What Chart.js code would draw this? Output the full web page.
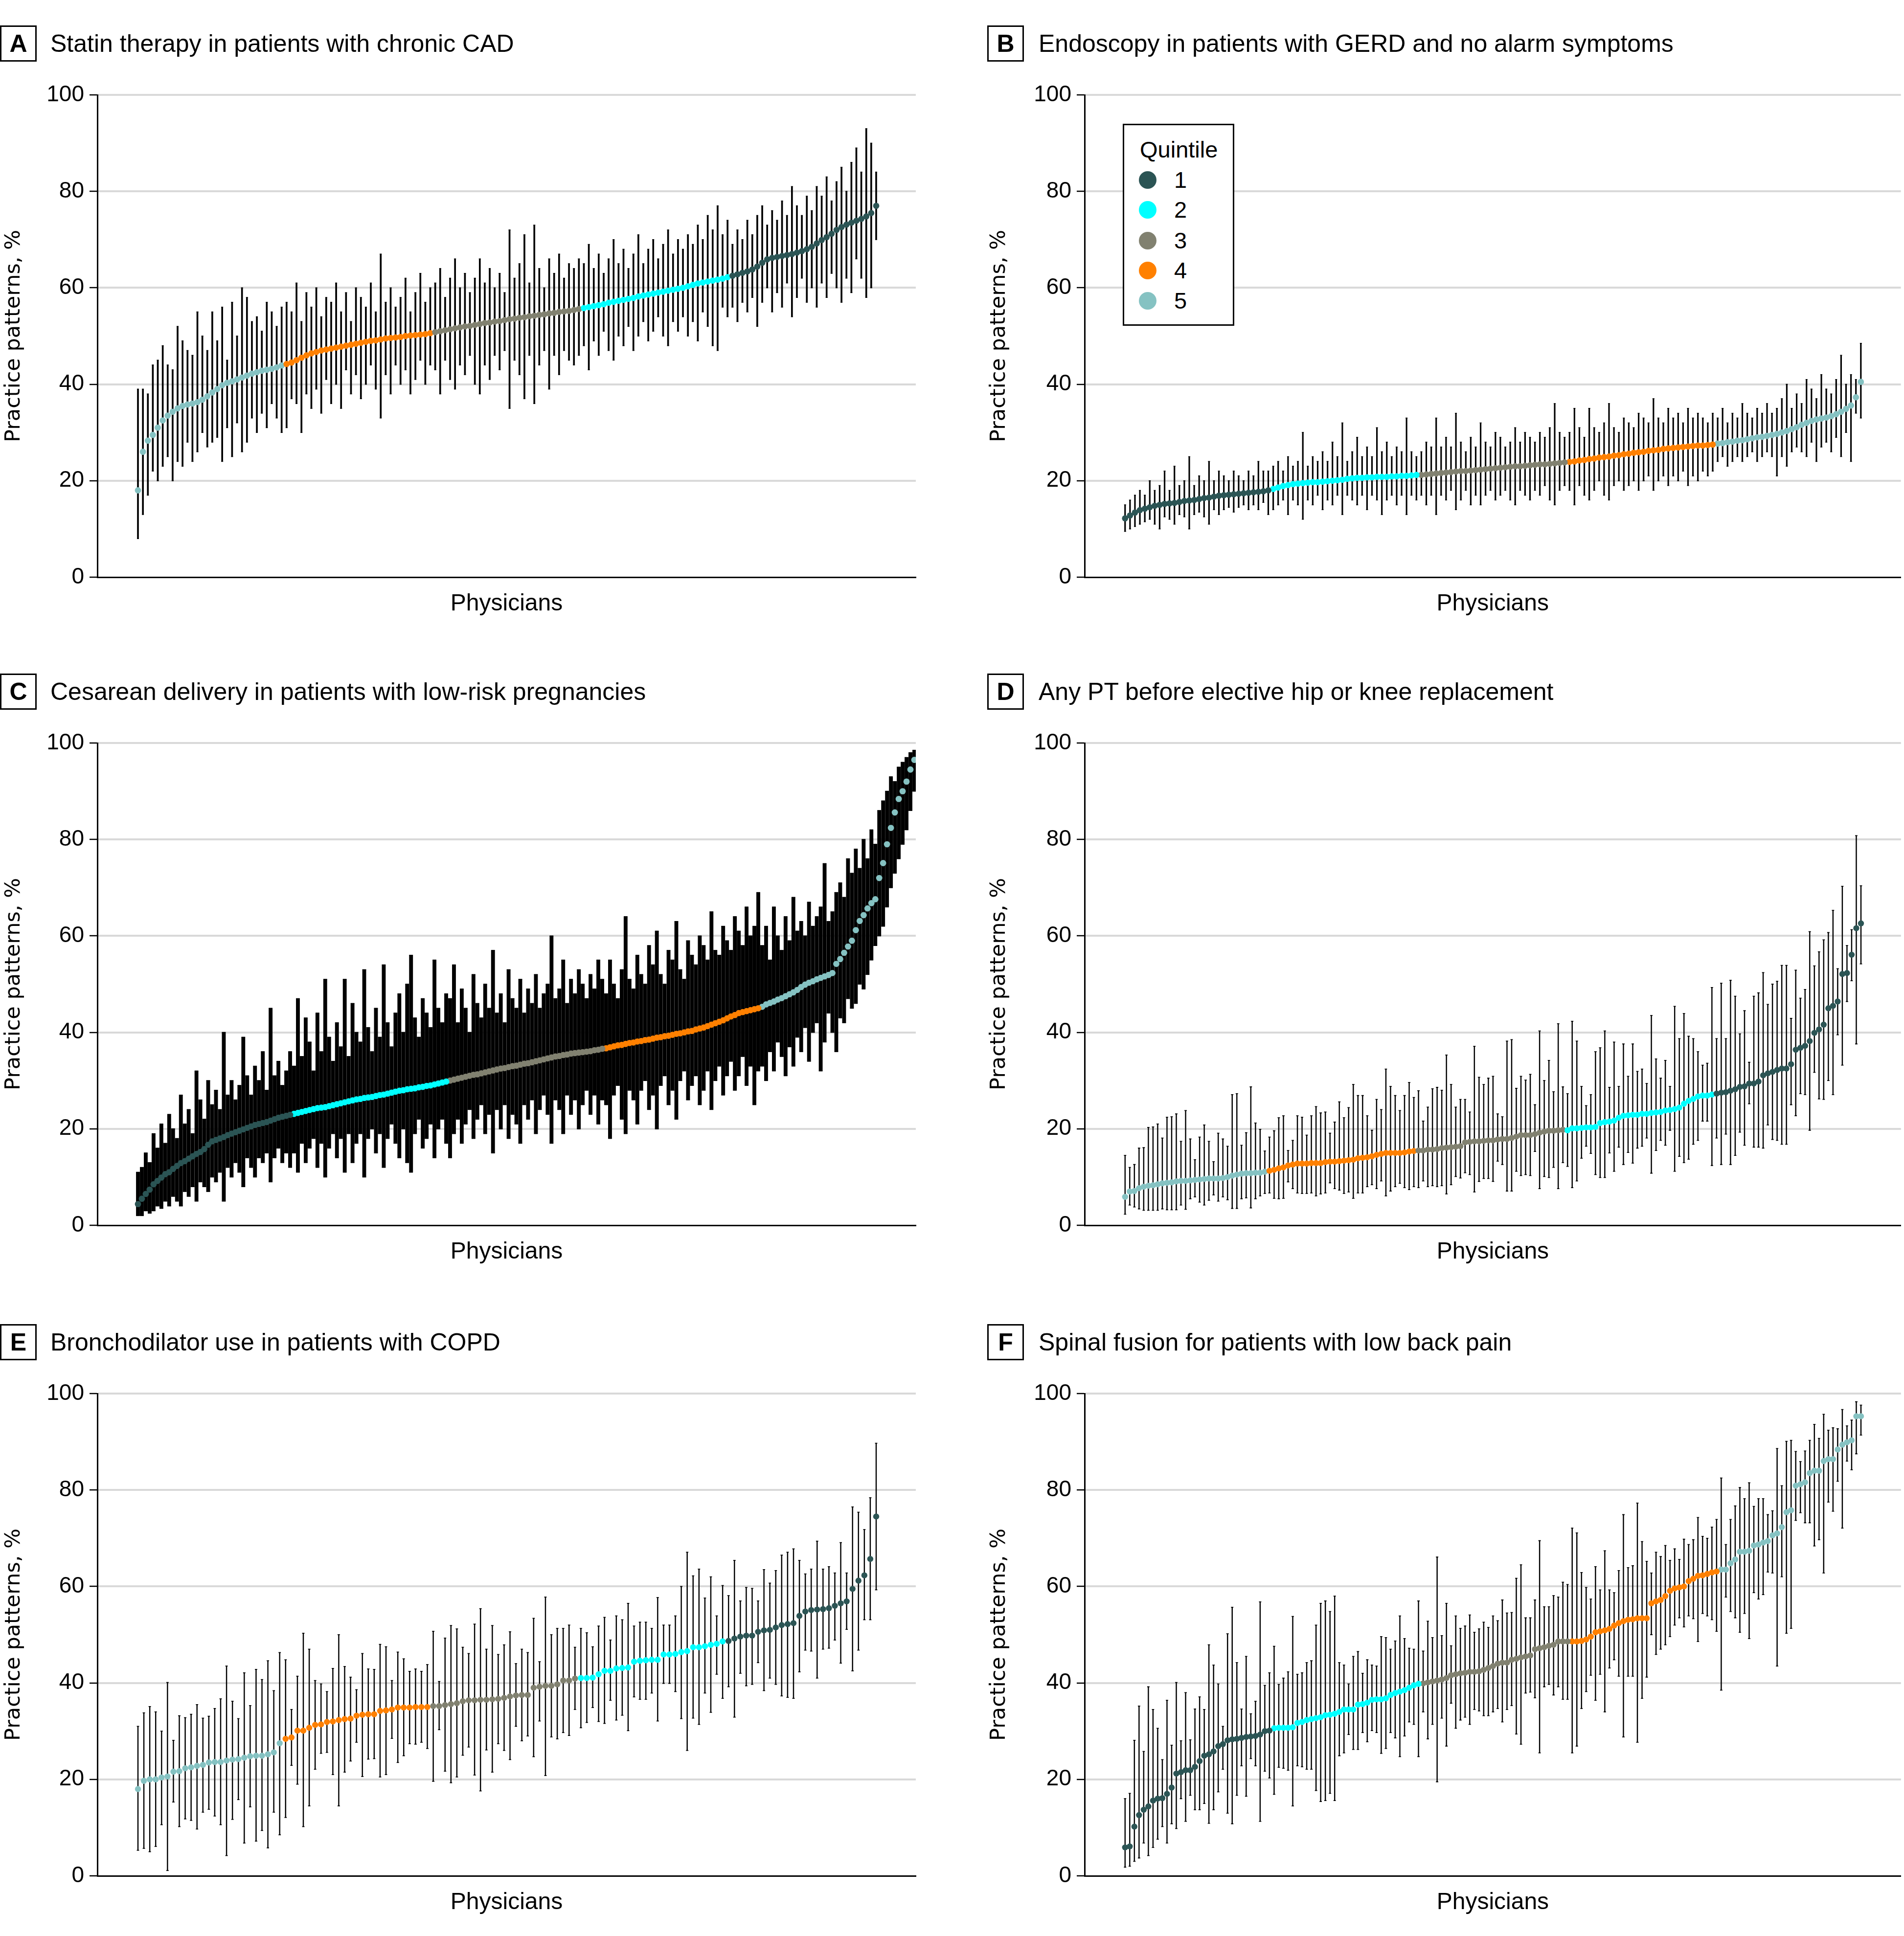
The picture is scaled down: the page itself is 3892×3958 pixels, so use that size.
<!DOCTYPE html>
<html><head><meta charset="utf-8">
<script src="https://cdn.jsdelivr.net/npm/chart.js@4.4.1/dist/chart.umd.min.js"></script>
<style>
html,body{margin:0;padding:0;background:#fff;}
body{width:3892px;height:3958px;position:relative;overflow:hidden;font-family:'Liberation Sans',Arial,sans-serif;color:#000;}
.box{position:absolute;width:75px;height:74px;box-sizing:border-box;border:3px solid #000;font-family:'Liberation Sans Narrow','Liberation Sans',sans-serif;font-weight:bold;font-size:50px;line-height:68px;text-align:center;}
.ttl{position:absolute;height:74px;line-height:74px;font-size:50px;white-space:nowrap;}
canvas{position:absolute;}
.lg{position:absolute;left:2295px;top:253px;width:228px;height:413px;box-sizing:border-box;border:3px solid #000;background:#fff;}
.lgt{position:absolute;height:60px;line-height:60px;font-size:47px;white-space:nowrap;}
.dot{position:absolute;width:36px;height:36px;border-radius:50%;}
</style>
</head><body>
<script>
// ---------- DATA ----------
const quintileColors = {1:'#2b5454', 2:'#00ffff', 3:'#818170', 4:'#ff8000', 5:'#85c2c2'};
const legendLabels = ['1','2','3','4','5'];
const yTicks = [0,20,40,60,80,100];

// Panel A
const orderA = [5,4,3,2,1];
const countsA = [30,30,30,30,30];
const valuesA = [18,26,28.3,29.5,31,32.5,33.5,34.3,35,35.5,35.8,36,36.3,36.8,37.5,38.3,39,39.8,40.3,40.6,41,41.4,41.8,42.2,42.5,42.8,43,43.2,43.5,43.9,
44.2,44.5,45,45.5,46,46.4,46.7,47,47.2,47.4,47.6,47.8,48,48.2,48.4,48.6,48.8,49,49.1,49.3,49.5,49.6,49.7,49.8,50,50.1,50.2,50.3,50.4,50.6,
50.8,51,51.2,51.4,51.6,51.8,52,52.1,52.3,52.5,52.7,52.8,53,53.1,53.3,53.5,53.6,53.8,53.9,54.1,54.2,54.4,54.5,54.7,54.8,55,55.1,55.2,55.4,55.6,
55.8,56,56.2,56.4,56.6,56.9,57.1,57.3,57.5,57.7,57.9,58.2,58.4,58.6,58.8,59,59.2,59.4,59.6,59.8,60,60.3,60.6,60.9,61.1,61.3,61.5,61.7,61.9,62.2,
62.5,62.8,63.1,63.4,63.8,64.4,65.2,65.9,66.2,66.4,66.6,66.8,67,67.3,67.6,68,68.5,69.2,69.9,70.5,71.2,72,72.6,73.1,73.5,73.9,74.3,74.8,75.5,77];
const upperA = [39,39,38,44,45,48,44,43,52,49,47,46,55,50,47,55,49,56,45,57,50,60,58,53,54,51,57,55,52,56,
57,55,61,53,59,56,60,54,58,57,61,55,59,53,60,58,56,61,55,67,57,60,56,58,62,55,59,63,57,60,
61,64,58,62,66,60,63,59,62,66,61,64,60,63,59,72,62,65,71,61,73,64,60,66,63,67,62,65,64,66,
65,69,64,67,63,66,70,65,68,64,67,71,65,68,70,66,69,72,67,70,68,71,69,73,70,75,72,77,71,74,
69,72,70,74,71,75,77,73,76,74,78,75,81,77,75,79,76,81,79,83,78,82,85,80,86,89,84,93,90,84];
const lowerA = [8,13,17,22,20,23,25,20,24,23,28,24,26,30,27,28,29,24,31,25,32,26,28,33,30,34,31,36,33,30,
31,37,36,30,38,35,39,34,41,36,40,35,43,38,42,37,40,44,39,33,42,38,44,40,43,38,41,45,40,44,
43,38,45,41,39,44,42,46,40,38,44,41,46,43,47,35,45,42,37,46,36,44,47,39,46,42,47,45,44,46,
48,43,49,46,51,47,45,50,48,52,47,50,53,49,51,54,50,48,53,51,54,50,53,49,55,52,48,47,56,54,
56,53,57,55,58,52,57,60,55,59,56,61,54,58,62,57,60,56,61,58,63,60,57,62,59,66,62,58,60,70];

// Panel B
const orderB = [1,2,3,4,5];
const countsB = [30,30,30,30,30];
const valuesB = [12.2,12.8,13.4,13.9,14.2,14.5,14.8,15,15.2,15.3,15.4,15.6,15.8,15.9,16,16.2,16.4,16.5,16.7,16.9,17,17.1,17.2,17.3,17.4,17.5,17.6,17.7,17.8,18,
18.3,18.6,18.9,19.1,19.3,19.4,19.5,19.6,19.7,19.7,19.8,19.9,20,20.1,20.2,20.4,20.5,20.6,20.6,20.7,20.7,20.8,20.8,20.8,20.9,20.9,21,21,21.1,21.2,
21.2,21.3,21.4,21.5,21.6,21.7,21.8,21.9,22,22,22.1,22.2,22.3,22.4,22.5,22.6,22.7,22.8,22.9,23,23,23.1,23.2,23.3,23.4,23.4,23.5,23.6,23.7,23.8,
23.9,24,24.2,24.3,24.5,24.6,24.8,24.9,25,25.2,25.3,25.5,25.6,25.8,25.9,26,26.2,26.3,26.4,26.6,26.7,26.8,26.9,27,27.1,27.2,27.3,27.3,27.4,27.5,
27.7,27.8,28,28.1,28.3,28.4,28.6,28.8,29,29.1,29.3,29.5,29.7,30,30.3,30.7,31.1,31.6,32,32.4,32.7,32.9,33.1,33.4,33.8,34.3,34.9,35.6,37.3,40.5];
const upperB = [15,16,17,18,17,20,18,19,22,18,23,19,20,25,19,21,20,24,20,22,21,20,22,21,20,22,21,24,22,22,
23,24,22,25,23,24,30,23,25,24,26,24,28,25,32,24,26,29,25,27,25,31,26,28,25,27,26,33,26,25,
26,28,27,33,27,29,27,34,28,26,29,27,32,28,27,30,29,27,28,31,28,30,29,28,30,29,31,36,30,29,
30,35,31,29,35,31,30,32,36,31,30,33,32,31,34,33,32,37,33,32,35,33,34,32,35,33,34,33,32,34,
33,35,32,34,33,36,34,33,35,34,36,34,35,37,40,35,38,36,41,39,37,42,39,38,41,46,40,42,41,48.5];
const lowerB = [9.5,10,10.5,11,11.5,12,11,10,12.5,12,11,13,12.5,10,13,13.5,12.5,11,14,13,14,14.5,13.5,14.5,15,14,15,14,15.5,13,
14,15,16,13,16,15,12,16,15,17,14,16,15,17,13,17,16,15,17,14,17,16,13,16,17,15,17,13,17,16,
17,15,17,13,17,16,18,14,16,18,15,17,15,17,18,16,17,18,16,15,18,17,16,18,17,19,16,15,18,19,
18,15,19,17,16,18,20,17,16,19,20,18,19,20,18,20,21,18,20,21,19,21,20,22,19,21,20,22,21,22,
24,25,23,24,25,24,25,26,24,25,26,25,21,25,23,26,27,26,25,28,24,27,28,26,29,25,30,24,34,33];

// Panel C
const orderC = [1,2,3,4,5];
const countsC = [40,40,40,40,40];
const valuesC = [4.4,5.5,6.5,7.4,8.5,9.2,9.9,10.6,11,11.7,12.3,12.9,13.3,13.8,14.3,14.8,15.2,15.8,16.7,17.4,17.7,18,18.3,18.7,19,19.3,19.6,19.9,20.2,20.5,20.8,21,21.2,21.4,21.7,22,22.3,22.5,22.7,22.9,
23.1,23.3,23.5,23.7,23.9,24.1,24.3,24.4,24.5,24.7,24.9,25.1,25.3,25.5,25.7,25.9,26.1,26.2,26.4,26.5,26.6,26.8,27,27.1,27.3,27.5,27.7,27.9,28,28.2,28.3,28.4,28.6,28.7,28.9,29,29.2,29.4,29.6,29.8,
30,30.2,30.4,30.6,30.8,31,31.2,31.3,31.5,31.7,31.9,32.1,32.3,32.5,32.6,32.8,33,33.1,33.3,33.5,33.6,33.8,34,34.2,34.4,34.6,34.8,35,35.1,35.3,35.4,35.6,35.7,35.8,35.9,36,36.1,36.3,36.4,36.6,
36.7,36.9,37.1,37.3,37.4,37.6,37.8,37.9,38.1,38.2,38.4,38.5,38.7,38.9,39,39.2,39.3,39.5,39.7,39.8,40,40.2,40.3,40.6,40.8,41,41.3,41.6,41.9,42.2,42.5,42.9,43.3,43.6,44,44.2,44.4,44.6,44.8,45,
45.3,45.8,46.1,46.4,46.8,47.1,47.5,47.9,48.3,48.8,49.4,49.9,50.3,50.6,51,51.3,51.6,51.9,52.3,54.2,55.2,56.5,57.8,59,61.2,63.1,64.3,65.7,66.8,67.6,72,75.1,79,82.4,85.6,88.4,90,92,94.5,96.5];
const upperC = [11,12,15,13,19,16,21,17,23,20,18,27,21,24,19,32,26,22,30,25,28,24,40,27,30,26,29,39,31,27,33,30,36,28,45,31,34,29,32,36,
33,47,35,43,38,32,44,36,51,39,34,42,37,51,35,46,40,38,53,41,36,45,39,54,42,37,44,48,40,50,56,43,39,47,44,41,55,45,42,48,
47,54,42,49,45,40,52,46,43,50,45,57,44,48,42,53,47,45,51,44,49,46,52,45,48,50,60,47,49,55,46,51,48,53,50,47,52,49,55,51,
48,55,50,47,53,64,51,49,56,52,50,58,54,61,52,50,57,55,63,53,51,59,56,54,60,58,55,65,57,56,62,59,57,64,61,58,66,60,62,69,
58,62,55,66,60,57,64,59,68,61,63,60,67,62,64,66,75,63,65,69,71,68,76,73,78,74,80,76,82,79,86,88,90,93,92,95,96,97,98,98.5];
const lowerC = [2,2,3,2.5,3,4,3.5,5,4,6,5,4,7,6,8,5,9,8,7,10,9,11,5,12,10,13,11,8,14,12,10,14,13,15,9,14,16,13,15,12,
15,11,17,13,16,18,12,17,10,16,19,14,18,11,19,13,17,19,10,18,20,15,19,12,18,21,17,14,20,13,11,19,22,16,18,21,14,20,22,17,
14,19,22,17,21,24,18,22,25,19,23,15,24,20,25,18,23,21,17,25,22,26,19,24,27,23,17,26,24,19,27,23,26,20,25,28,23,27,21,26,
25,18,27,29,22,19,28,26,21,28,30,24,27,20,29,31,25,28,22,30,32,26,29,31,25,28,32,24,30,33,27,31,34,28,31,35,29,33,25,32,
33,30,36,32,38,35,31,37,33,39,36,41,34,40,42,32,38,44,40,36,43,42,47,45,46,50,49,52,55,58,60,62,66,70,73,76,79,82,86,90];

// Panel D
const orderD = [5,4,3,2,1];
const countsD = [31,32,32,32,32];
const valuesD = [5.9,7.0,7.1,7.7,8.0,8.2,8.3,8.5,8.7,8.8,8.9,9.1,9.2,9.2,9.3,9.4,9.5,9.6,9.7,9.7,9.7,9.8,10.0,10.3,10.5,10.7,10.8,10.8,10.9,10.9,11.1,
11.3,11.5,11.8,12.0,12.4,12.6,12.8,12.8,12.8,12.9,12.9,12.9,13.1,13.2,13.2,13.3,13.4,13.5,13.6,13.9,14.0,14.1,14.3,14.6,14.8,15.0,15.0,15.0,15.0,15.1,15.3,15.4,
15.5,15.5,15.7,15.7,15.8,16.0,16.1,16.2,16.3,16.4,17.2,17.3,17.4,17.4,17.5,17.6,17.6,17.8,17.9,17.9,18.1,18.4,18.7,18.7,18.7,18.9,19.2,19.4,19.6,19.6,19.7,19.8,
19.7,20.1,20.1,20.2,20.3,20.3,20.4,21.2,21.4,21.5,21.7,22.3,22.7,22.8,22.9,22.9,23.1,23.1,23.3,23.4,23.5,23.8,23.9,24.1,24.4,25.2,25.8,26.2,26.7,26.9,26.9,27.1,
27.3,27.5,27.6,27.9,28.2,28.7,28.8,29.4,29.4,29.8,31.1,31.5,31.8,32.2,32.5,32.5,33.4,36.4,36.8,37.2,38.2,39.9,40.6,41.6,45.0,45.5,46.4,52.1,52.3,56.1,61.6,62.6];
const upperD = [14.5,12.0,12.6,16.0,16.1,20.3,20.4,21.0,18.1,22.4,22.5,23.1,17.4,23.8,17.9,13.6,18.3,20.8,17.4,13.2,19.1,17.9,16.4,27.1,27.3,16.6,19.2,28.7,21.2,19.9,15.4,
18.3,19.6,22.3,22.7,15.5,17.6,22.7,22.4,18.7,22.7,24.6,23.3,23.5,19.1,21.4,25.6,22.3,24.4,29.2,26.9,26.9,22.7,19.7,26.1,24.0,32.4,28.8,26.9,23.8,26.9,29.6,26.5,
27.9,21.6,24.5,28.3,28.6,28.0,35.3,29.2,24.5,26.1,26.1,23.5,37.1,30.7,29.2,30.5,30.9,23.1,22.5,38.2,38.5,28.4,30.9,30.1,31.3,25.0,40.3,30.0,34.2,27.7,41.8,28.7,
27.3,42.3,38.2,28.8,24.8,27.1,36.0,36.8,40.3,28.6,38.0,28.8,37.6,30.9,37.6,31.9,32.4,29.4,43.5,34.5,30.5,34.2,28.8,45.4,38.7,43.9,39.2,38.7,36.0,33.2,33.6,49.3,
38.7,50.2,38.7,50.8,47.5,39.7,44.5,33.8,47.5,48.2,52.4,45.8,50.0,50.6,53.9,53.9,42.9,52.9,47.1,48.9,60.9,53.8,56.7,59.2,60.7,65.3,53.2,70.3,58.0,61.3,80.8,70.4];
const lowerD = [2.3,4.2,3.8,3.4,3.1,3.1,3.1,3.1,3.4,3.2,3.2,3.2,4.2,3.3,5.5,5.9,4.8,4.2,5.2,6.3,5.0,5.9,5.3,3.5,3.5,5.5,5.7,3.6,5.5,6.1,6.6,
6.7,5.6,5.5,5.6,9.0,7.6,6.7,6.6,6.6,6.7,6.1,6.5,6.7,8.8,7.6,7.3,6.6,6.9,5.6,6.7,6.7,8.0,8.4,7.6,9.2,6.1,7.1,8.0,8.7,7.8,7.4,8.0,
7.8,9.2,8.0,8.2,8.0,8.2,6.5,8.4,10.1,9.8,10.9,10.5,6.9,9.1,9.7,9.7,9.1,13.3,12.6,7.1,7.1,11.2,10.3,10.5,10.3,15.3,7.6,10.1,9.9,12.0,7.6,13.0,
12.2,7.8,9.2,13.9,16.4,14.9,10.5,9.9,9.9,15.0,11.2,16.2,12.6,15.1,12.9,16.0,16.4,18.1,10.8,15.5,17.6,16.6,19.7,11.2,14.3,13.0,13.7,16.8,17.6,21.6,21.6,12.4,
18.1,12.6,18.9,12.6,14.5,19.3,16.6,25.2,16.2,16.2,16.0,20.8,17.8,17.6,16.8,16.8,25.0,22.7,27.3,27.1,19.7,31.7,26.2,26.1,30.0,27.1,39.5,33.2,46.4,50.7,37.6,54.2];

// Panel E
const orderE = [5,4,3,2,1];
const countsE = [25,25,25,25,26];
const valuesE = [18.0,19.7,20.0,20.0,20.4,20.6,21.6,21.7,22.3,22.5,22.8,23.0,23.5,23.6,23.6,23.9,24.1,24.2,24.5,24.8,24.9,24.9,25.2,25.6,27.5,
28.4,28.7,30.1,30.1,30.7,31.3,31.4,31.9,32.0,32.3,32.5,32.6,33.2,33.4,33.5,33.5,34.2,34.3,34.5,34.9,34.9,34.9,35.0,35.0,35.0,
35.2,35.2,35.4,35.6,35.8,36.2,36.4,36.4,36.5,36.5,36.6,36.7,36.9,37.2,37.4,37.5,37.5,39.0,39.2,39.4,39.4,39.7,40.5,40.5,40.9,
41.0,41.0,41.1,41.8,42.5,42.5,43.0,43.1,43.2,44.4,44.6,44.7,44.8,44.8,45.9,45.9,46.0,46.4,46.6,47.4,47.4,47.6,47.9,48.1,48.6,
48.7,49.2,49.6,49.8,49.8,50.6,50.9,51.0,51.5,52.0,52.2,52.4,53.9,54.8,55.1,55.2,55.3,55.5,56.0,56.5,56.9,59.5,61.2,62.3,65.7,74.5];
const upperE = [31.0,33.8,35.1,34.0,30.0,40.1,28.1,33.2,32.8,33.5,35.5,32.7,33.1,34.7,36.7,43.5,36.2,32.6,42.1,35.3,42.8,40.7,44.6,38.4,46.3,
44.8,34.5,41.4,50.3,47.0,40.5,39.8,38.2,43.0,50.0,43.4,41.2,38.6,46.1,42.9,42.8,48.0,47.5,40.5,46.4,45.0,42.4,42.9,42.4,43.8,
50.7,40.3,49.3,51.9,51.2,47.4,46.1,52.2,55.4,47.0,51.9,45.9,47.9,50.6,44.0,47.0,46.3,53.4,44.4,57.8,50.0,51.3,51.3,52.0,47.4,
51.3,50.4,47.5,51.8,53.6,48.9,53.9,53.1,56.5,51.8,52.6,52.6,51.3,57.7,52.0,52.0,53.9,60.0,67.1,62.2,63.6,57.6,62.0,53.9,60.2,
58.1,65.4,57.0,59.8,59.6,57.0,63.5,60.7,63.3,66.5,67.1,67.8,65.4,62.6,63.6,69.4,63.6,64.1,62.8,69.1,62.8,76.5,75.4,71.8,78.4,89.7];
const lowerE = [5.3,5.7,5.0,6.1,10.6,1.1,15.3,10.2,11.8,11.5,9.7,13.2,13.8,12.4,10.6,4.2,11.7,15.8,6.8,14.3,7.2,9.4,5.8,13.2,8.5,
12.1,22.9,19.0,10.2,14.5,22.1,25.4,25.6,21.0,14.5,21.5,23.8,27.7,20.6,24.2,24.3,20.5,21.0,28.5,23.5,24.9,27.4,27.3,27.7,26.4,
19.6,30.3,21.7,19.3,20.5,25.0,26.7,20.9,17.6,26.1,21.5,27.4,26.0,24.1,31.0,28.0,29.0,24.7,32.1,20.8,28.8,28.4,29.7,29.1,34.5,
30.7,31.8,34.9,32.0,31.6,36.4,32.3,33.3,30.1,37.1,36.6,36.6,37.9,32.1,39.9,39.9,38.2,32.6,26.0,32.7,31.4,37.9,33.9,41.8,36.8,
39.2,32.9,42.0,39.4,39.7,44.2,38.4,41.0,39.7,37.3,37.0,36.8,42.3,46.8,46.6,41.0,47.0,47.2,48.9,44.1,51.1,42.5,46.8,53.1,53.1,59.3];

// Panel F
const orderF = [1,2,3,4,5];
const countsF = [32,32,32,32,31];
const valuesF = [5.9,6.1,10.2,12.6,13.7,14.4,15.6,16.0,16.1,17.0,18.3,21.2,21.5,21.9,21.9,22.6,23.8,24.9,25.2,25.8,26.9,27.3,28.1,28.3,28.4,28.6,28.8,28.9,29.0,29.3,30.0,30.1,
30.6,30.7,30.7,30.7,30.8,31.7,31.9,32.3,32.5,32.7,32.9,33.3,33.4,33.6,34.0,34.5,34.5,34.5,35.5,35.6,35.9,36.5,36.6,36.6,36.8,37.5,37.9,38.2,38.5,39.0,39.5,39.8,
39.9,40.1,40.3,40.5,40.7,41.0,41.6,41.8,42.0,42.1,42.3,42.3,42.4,42.7,43.1,43.5,44.0,44.2,44.2,44.8,45.0,45.3,45.5,45.7,47.0,47.2,47.4,47.7,47.9,48.6,48.6,48.6,
48.6,48.6,48.7,49.0,49.6,50.5,50.7,50.9,51.2,51.9,52.4,52.8,53.1,53.2,53.4,53.4,53.4,56.5,56.9,57.2,58.0,59.1,59.6,59.8,60.0,61.1,61.6,62.2,62.3,62.6,62.9,63.1,
63.5,63.5,64.8,65.6,67.2,67.2,67.4,68.5,68.7,69.1,69.4,70.6,71.0,72.3,75.4,75.8,80.9,81.2,81.6,83.5,84.0,84.0,86.0,86.4,86.4,88.4,89.4,89.9,90.3,95.3,95.3];
const upperF = [16.0,17.1,28.1,35.2,25.8,39.2,34.5,30.6,24.1,36.4,27.1,40.1,28.0,38.0,28.2,34.6,37.1,34.5,47.9,43.7,39.8,31.0,50.2,55.7,44.2,34.6,45.5,33.6,36.2,56.8,39.5,42.1,
47.6,39.7,41.0,42.3,53.8,41.8,42.1,44.2,44.6,52.0,56.5,57.0,54.8,58.0,44.2,43.7,39.8,45.5,46.5,42.0,44.8,43.7,43.5,49.6,49.4,47.0,48.7,53.9,49.2,47.2,47.0,57.0,
46.6,52.8,49.4,66.1,49.8,56.5,47.7,53.9,51.3,51.8,54.1,50.5,51.2,52.6,51.5,53.9,52.9,57.2,54.5,54.6,61.7,64.5,53.5,53.5,57.2,69.5,55.8,55.8,58.1,57.8,60.9,60.4,
72.1,71.1,62.9,59.8,57.4,64.1,59.3,67.4,59.3,58.7,63.3,74.9,63.9,64.3,77.3,69.3,65.2,62.8,67.1,66.2,68.5,65.4,67.8,65.6,69.8,68.7,69.7,74.3,70.4,70.0,72.3,73.9,
82.5,68.7,73.9,76.7,80.5,78.2,81.5,76.6,78.2,78.2,74.9,75.7,88.6,80.9,90.1,90.3,88.0,85.9,88.1,90.3,93.6,90.7,95.7,92.4,92.9,92.7,96.7,93.3,94.5,98.3,97.6];
const lowerF = [1.8,2.0,3.0,3.7,6.8,4.2,5.9,7.6,10.2,6.8,10.8,9.8,16.0,11.3,16.7,13.7,13.7,15.0,10.9,13.7,17.4,22.1,13.0,10.8,16.7,22.8,16.5,24.3,22.8,11.3,21.7,20.3,
16.9,22.5,22.3,21.9,14.5,22.8,22.6,22.1,22.1,17.7,15.4,15.6,17.1,15.6,24.9,25.5,29.3,26.2,26.2,29.7,27.8,30.1,29.7,25.4,26.4,29.7,28.6,24.7,29.0,31.9,31.4,24.7,
34.0,28.4,31.4,19.5,32.7,26.9,35.8,30.6,32.3,32.9,31.4,34.5,34.2,33.2,33.2,34.0,34.7,31.9,34.5,35.3,29.4,27.3,37.9,38.1,36.9,25.5,39.2,39.7,37.5,39.2,36.6,36.6,
25.5,26.9,34.7,38.2,41.6,36.4,41.8,34.0,43.1,44.8,41.4,28.8,41.4,41.4,27.7,36.8,41.2,50.0,45.9,47.0,47.9,49.6,52.0,53.5,51.6,53.9,53.3,48.6,54.4,53.9,53.1,50.7,
38.5,57.8,54.8,53.5,50.5,54.4,49.2,58.7,57.4,58.3,63.0,62.8,43.5,62.0,50.3,51.3,73.7,75.3,73.2,73.2,68.4,69.7,62.8,77.5,75.6,81.8,72.1,86.0,84.2,87.5,91.4];

// ---------- LAYOUT ----------
const ROW_Y100 = [194, 1519, 2849];
const PLOT_H = 986;
const COLS = [
  {axisX:199, rightX:1872, canvasLeft:0, canvasWidth:1900, boxLeft:0, titleLeft:103},
  {axisX:2217, rightX:3890, canvasLeft:2014, canvasWidth:1878, boxLeft:2018, titleLeft:2123}
];
const panels = [
  {letter:'A', title:'Statin therapy in patients with chronic CAD', col:0, row:0, values:valuesA, upper:upperA, lower:lowerA, order:orderA, counts:countsA, padL:83, padR:81, bar:3, cap:2, capW:1.7, r:6.4},
  {letter:'B', title:'Endoscopy in patients with GERD and no alarm symptoms', col:1, row:0, values:valuesB, upper:upperB, lower:lowerB, order:orderB, counts:countsB, padL:83, padR:82, bar:2.5, cap:2, capW:1.7, r:6.4},
  {letter:'C', title:'Cesarean delivery in patients with low-risk pregnancies', col:0, row:1, values:valuesC, upper:upperC, lower:lowerC, order:orderC, counts:countsC, padL:83, padR:3, bar:7.2, cap:3.8, capW:1.7, r:6.4},
  {letter:'D', title:'Any PT before elective hip or knee replacement', col:1, row:1, values:valuesD, upper:upperD, lower:lowerD, order:orderD, counts:countsD, padL:83, padR:82, bar:1.8, cap:2.4, capW:1.8, r:6.2},
  {letter:'E', title:'Bronchodilator use in patients with COPD', col:0, row:2, values:valuesE, upper:upperE, lower:lowerE, order:orderE, counts:countsE, padL:83, padR:81, bar:1.8, cap:2.4, capW:1.8, r:6.2},
  {letter:'F', title:'Spinal fusion for patients with low back pain', col:1, row:2, values:valuesF, upper:upperF, lower:lowerF, order:orderF, counts:countsF, padL:83, padR:82, bar:1.8, cap:2.4, capW:1.8, r:6.2}
];

function el(tag, cls, styles, text) {
  const e = document.createElement(tag);
  if (cls) e.className = cls;
  Object.assign(e.style, styles || {});
  if (text !== undefined) e.textContent = text;
  document.body.appendChild(e);
  return e;
}

function makePanel(p) {
  const col = COLS[p.col];
  const y100 = ROW_Y100[p.row];
  el('div', 'box', {left: col.boxLeft + 'px', top: (y100 - 142) + 'px'}, p.letter);
  el('div', 'ttl', {left: col.titleLeft + 'px', top: (y100 - 142) + 'px'}, p.title);

  const cv = document.createElement('canvas');
  const H = 60 + PLOT_H + 100;
  cv.width = col.canvasWidth; cv.height = H;
  cv.style.left = col.canvasLeft + 'px'; cv.style.top = (y100 - 60) + 'px';
  cv.style.width = col.canvasWidth + 'px'; cv.style.height = H + 'px';
  document.body.appendChild(cv);

  const n = p.values.length;
  const span = (col.rightX - col.axisX) - p.padL - p.padR;
  const pxPer = span / (n - 1);
  const xmin = -p.padL / pxPer, xmax = (n - 1) + p.padR / pxPer;

  const quint = [];
  p.order.forEach((q, k) => { for (let j = 0; j < p.counts[k]; j++) quint.push(q); });

  const bars = p.values.map((v, i) => ({x: i, y: [p.lower[i], p.upper[i]]}));
  const caps = [];
  p.values.forEach((v, i) => { caps.push({x: i, y: p.lower[i]}); caps.push({x: i, y: p.upper[i]}); });

  const datasets = [
    {type: 'bar', data: bars, backgroundColor: '#000', borderWidth: 0, barThickness: p.bar, grouped: false, order: 3},
    {type: 'line', data: caps, showLine: false, pointStyle: 'line', pointRadius: p.cap, pointHoverRadius: p.cap,
     pointBorderColor: '#000', pointBorderWidth: p.capW, order: 2}
  ];
  [1,2,3,4,5].forEach(q => {
    const pts = [];
    p.values.forEach((v, i) => { if (quint[i] === q) pts.push({x: i, y: v}); });
    datasets.push({type: 'line', data: pts, showLine: false, pointRadius: p.r, pointHoverRadius: p.r,
      pointBackgroundColor: quintileColors[q], pointBorderColor: quintileColors[q], pointBorderWidth: 0, order: 1});
  });

  new Chart(cv, {
    type: 'bar',
    data: {datasets},
    options: {
      responsive: false, devicePixelRatio: 1, animation: false, events: [],
      layout: {padding: {top: 60, left: 0, bottom: 0, right: col.canvasWidth - (col.rightX - col.canvasLeft)}},
      plugins: {legend: {display: false}, tooltip: {enabled: false}},
      scales: {
        x: {
          type: 'linear', min: xmin, max: xmax, offset: false,
          grid: {display: false},
          border: {display: true, color: '#000', width: 3},
          ticks: {display: false},
          title: {display: true, text: 'Physicians', color: '#000',
                  font: {family: 'Liberation Sans', size: 48}, padding: {top: 0, bottom: 16}},
          afterFit: s => { s.height = 100; }
        },
        y: {
          type: 'linear', min: 0, max: 100,
          afterBuildTicks: s => { s.ticks = yTicks.map(v => ({value: v})); },
          ticks: {color: '#000', font: {family: 'Liberation Sans', size: 46}, padding: 11},
          grid: {color: c => (c.tick && c.tick.value === 0) ? 'rgba(0,0,0,0)' : '#d9d9d9',
                 lineWidth: 4, tickColor: '#000', tickWidth: 2.5, tickLength: 16},
          border: {display: true, color: '#000', width: 3},
          title: {display: true, text: 'Practice patterns, %', color: '#000',
                  font: {family: 'DejaVu Sans', size: 43}, padding: {top: 3, bottom: 0}},
          afterFit: s => { s.width = col.axisX - col.canvasLeft; }
        }
      }
    }
  });
}

panels.forEach(makePanel);

// Legend (panel B)
el('div', 'lg', {});
el('div', 'lgt', {left: '2330px', top: '276px'}, 'Quintile');
const legendY = [368, 429, 492, 553, 615];
legendLabels.forEach((lab, k) => {
  el('div', 'dot', {left: (2346 - 18) + 'px', top: (legendY[k] - 18) + 'px', background: quintileColors[k + 1]});
  el('div', 'lgt', {left: '2400px', top: (legendY[k] - 30) + 'px'}, lab);
});
</script>
</body></html>
